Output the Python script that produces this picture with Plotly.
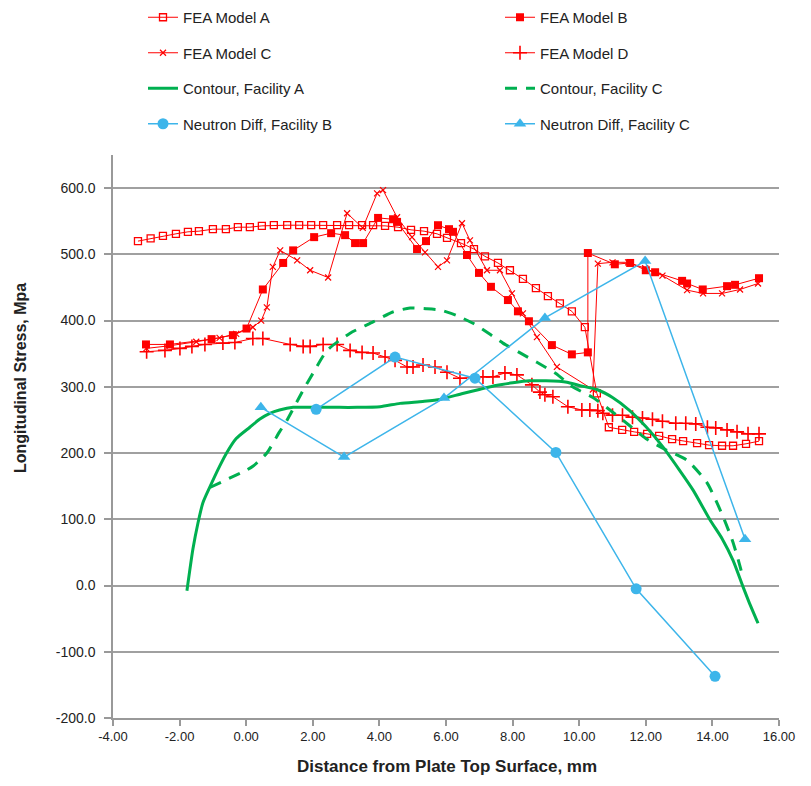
import plotly.graph_objects as go

# ---------------- data ----------------
A_x = [-3.25,-2.87,-2.50,-2.11,-1.75,-1.42,-1.00,-0.61,-0.25,0.11,0.47,0.83,1.23,1.59,1.95,2.31,2.73,3.09,3.48,3.81,
       4.17,4.56,4.95,5.34,5.73,6.03,6.45,6.84,7.17,7.56,7.92,8.31,8.70,9.06,9.42,9.78,10.17,10.53,10.89,11.29,11.65,
       12.04,12.40,12.79,13.12,13.54,13.90,14.29,14.62,15.01,15.40]
A_y = [520,524,528,531,534,535,538,538,541,541,543,544,544,544,544,544,544,544,544,544,
       543,541,537,535,531,525,517,508,497,487,476,463,449,437,426,414,390,290,239,235,232,
       229,226,221,218,215,212,211,211,214,218]

B_x = [-3.01,-2.29,-1.04,-0.40,0.01,0.50,1.11,1.41,2.04,2.55,2.97,3.27,3.51,3.96,4.41,4.53,5.13,5.40,5.76,6.09,6.21,
       6.63,6.99,7.35,7.86,8.16,8.49,9.18,9.78,10.26,10.26,11.07,11.53,12.00,12.28,13.09,13.24,13.71,14.44,14.68,15.40]
B_y = [364,364,372,378,388,447,487,506,526,532,529,517,517,555,553,549,508,520,544,538,534,
       499,472,451,431,414,399,363,349,352,502,485,487,476,473,460,456,447,452,454,464]

C_x = [-3.00,-2.30,-1.50,-0.80,-0.30,0.20,0.45,0.62,0.80,1.02,1.53,1.92,2.46,3.03,3.50,3.93,4.11,4.53,4.98,5.37,5.76,
       6.03,6.48,6.72,7.23,7.62,7.98,8.31,8.73,9.33,10.41,10.56,11.00,11.47,11.98,12.50,13.24,13.72,14.29,14.83,15.37]
C_y = [358,362,368,374,380,390,400,420,481,506,491,476,465,562,540,592,597,556,526,503,481,
       491,547,521,476,476,441,411,375,330,296,486,488,488,479,468,446,441,441,447,456]

D_x = [-2.99,-2.44,-1.99,-1.63,-1.24,-0.70,-0.34,0.20,0.50,1.32,1.71,1.92,2.31,2.73,3.12,3.48,3.81,4.17,4.47,4.83,
       5.01,5.31,5.67,6.03,6.42,7.11,7.41,7.77,8.13,8.58,8.82,8.97,9.21,9.66,10.08,10.32,10.56,10.71,11.00,11.30,
       11.60,11.90,12.20,12.50,12.90,13.20,13.50,13.85,14.10,14.44,14.74,15.07,15.40]
D_y = [353,355,358,361,364,366,367,373,373,364,361,361,364,364,355,352,351,345,340,330,
       330,333,330,322,313,315,315,321,318,303,292,288,285,270,265,265,264,260,257,257,
       254,253,251,248,245,245,244,239,238,235,232,229,229]

CA_x = [-1.78,-1.60,-1.45,-1.30,-1.09,-0.80,-0.58,-0.30,0.11,0.40,0.71,1.00,1.41,2.13,2.80,3.33,4.02,4.62,5.30,5.82,
        6.50,7.00,7.50,8.00,8.50,9.00,9.63,10.00,10.53,11.00,11.50,12.00,12.50,13.00,13.42,13.93,14.30,14.62,14.92,
        15.10,15.37]
CA_y = [-8,55,94,125,149,180,201,222,239,251,260,265,269,269,269,269,270,275,278,281,
        290,296,302,306,309,309,307,302,296,284,265,240,210,175,144,99,70,38,-2,
        -25,-57]

CC_x = [-1.09,-0.50,0.00,0.20,0.62,1.00,1.23,1.71,2.00,2.43,3.12,3.81,4.40,4.92,5.40,5.82,6.30,6.81,7.30,7.71,
        8.20,8.73,9.30,9.80,10.41,11.00,11.50,12.00,12.60,13.24,13.84,14.32,14.62,14.83,14.90]
CC_y = [148,162,174,180,200,232,250,295,320,355,381,398,413,419,418,416,408,396,380,366,
        352,337,320,300,284,262,242,222,205,189,155,104,65,29,15]

NB_x = [2.10, 4.47, 6.87, 9.30, 11.71, 14.08]
NB_y = [266, 345, 313, 201, -5, -137]

NC_x = [0.44, 2.94, 5.94, 8.97, 11.98, 14.98]
NC_y = [269, 194, 283, 404, 490, 70]

x_ticks = [-4, -2, 0, 2, 4, 6, 8, 10, 12, 14, 16]
y_ticks = [-200, -100, 0, 100, 200, 300, 400, 500, 600]

# ---------------- styling ----------------
RED = "#ff0000"
GREEN = "#00b050"
BLUE = "#3db5ea"
FONT = "Liberation Sans, Arial, sans-serif"

fig = go.Figure()

def add(name, x, y, color, width, marker=None, dash=None, legend="legend", group=None,
        mode="lines+markers", shape="linear"):
    fig.add_trace(go.Scatter(
        x=x, y=y, name=name, mode=mode,
        line=dict(color=color, width=width, dash=dash, shape=shape,
                  smoothing=0.6 if shape == "spline" else None),
        marker=marker or {},
        legend=legend, legendgroup=group or name,
    ))

add("FEA Model A", A_x, A_y, RED, 1, dict(symbol="square-open", size=7, color=RED, line=dict(width=1.3, color=RED)))
add("FEA Model B", B_x, B_y, RED, 1, dict(symbol="square", size=8, color=RED), legend="legend2")
add("FEA Model C", C_x, C_y, RED, 1, dict(symbol="x-thin-open", size=6, color=RED, line=dict(width=1.2, color=RED)))
add("FEA Model D", D_x, D_y, RED, 1, dict(symbol="cross-thin-open", size=10, color=RED, line=dict(width=1.6, color=RED)), legend="legend2")
add("Contour, Facility A", CA_x, CA_y, GREEN, 3, mode="lines", shape="spline")
add("Contour, Facility C", CC_x, CC_y, GREEN, 3, dash="12px,9px", legend="legend2", mode="lines", shape="spline")
add("Neutron Diff, Facility B", NB_x, NB_y, BLUE, 1.5, dict(symbol="circle", size=11, color=BLUE))
add("Neutron Diff, Facility C", NC_x, NC_y, BLUE, 1.5, dict(symbol="triangle-up", size=11, color=BLUE), legend="legend2")

PW, PH = 666, 563  # plot area size in px

legend_common = dict(
    yanchor="top", xanchor="left",
    font=dict(family=FONT, size=15, color="#222"),
    bgcolor="rgba(0,0,0,0)", tracegroupgap=13, itemwidth=30,
)

fig.update_layout(
    width=811, height=786,
    margin=dict(l=113, r=32, t=155, b=68, autoexpand=False),
    paper_bgcolor="white", plot_bgcolor="white",
    font=dict(family=FONT, size=13, color="#222"),
    legend=dict(x=(143 - 113) / PW, y=(718 - 1) / PH, **legend_common),
    legend2=dict(x=(500 - 113) / PW, y=(718 - 1) / PH, **legend_common),
    xaxis=dict(
        range=[-4, 16], tickvals=x_ticks, ticktext=[f"{v:.2f}" for v in x_ticks],
        showgrid=False, zeroline=False, showline=True, linecolor="#999", linewidth=1.5,
        ticks="outside", ticklen=6, tickcolor="#999", tickwidth=1.5, tickangle=0,
        tickfont=dict(family=FONT, size=13, color="#222"),
    ),
    yaxis=dict(
        range=[-200, 650], tickvals=y_ticks, ticktext=[f"{v:.1f}" for v in y_ticks],
        showgrid=True, gridcolor="#a0a0a0", gridwidth=1.5, zeroline=False,
        showline=True, linecolor="#999", linewidth=1.5,
        ticks="outside", ticklen=7, tickcolor="#999", tickwidth=1.5, ticklabelstandoff=6,
        tickfont=dict(family=FONT, size=14, color="#222"),
    ),
    annotations=[
        dict(text="<b>Longitudinal Stress, Mpa</b>", xref="paper", yref="paper",
             x=(20 - 113) / PW, y=(718 - 378) / PH, textangle=-90, showarrow=False,
             font=dict(family=FONT, size=16, color="#222"), xanchor="center", yanchor="middle"),
        dict(text="<b>Distance from Plate Top Surface, mm</b>", xref="paper", yref="paper",
             x=(447 - 113) / PW, y=-(766 - 718) / PH, showarrow=False,
             font=dict(family=FONT, size=17, color="#222"), xanchor="center", yanchor="middle"),
    ],
)

fig.write_html("out.html")
